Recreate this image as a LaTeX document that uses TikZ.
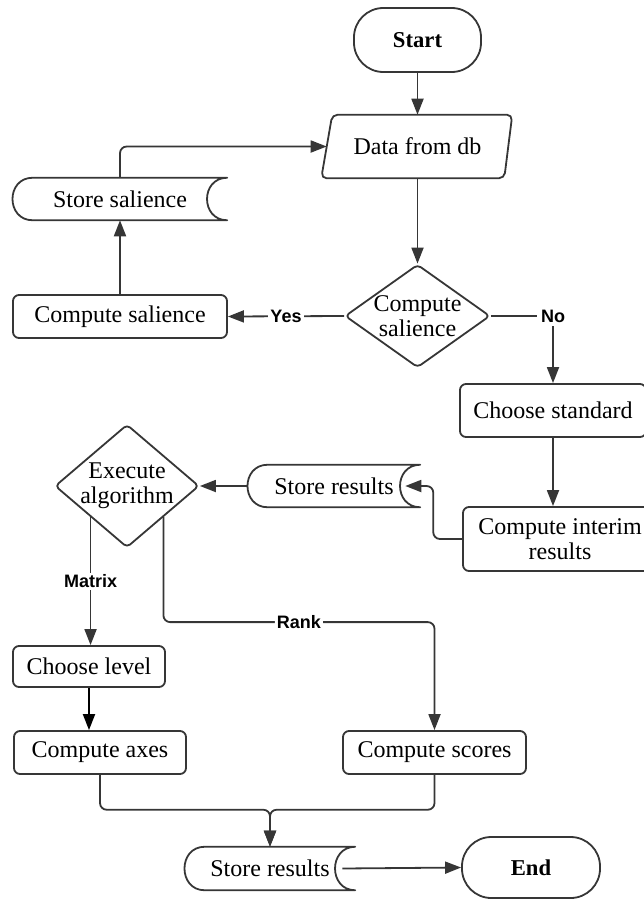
\documentclass[tikz,border=0pt]{standalone}
\usepackage{fontspec}
\setmainfont{Liberation Serif}
\newfontfamily\labelfont{Liberation Sans}
\usetikzlibrary{arrows.meta,calc,shapes.geometric}
\definecolor{ink}{HTML}{363636}

% outline of a "stored data" symbol around an invisible node
\newcommand\storeoutline[1]{%
  \draw[outline] ($(#1.north west)+(20,0)$) -- (#1.north east)
    .. controls +(-27,0) and +(-27,0) .. (#1.south east)
    -- ($(#1.south west)+(20,0)$)
    .. controls +(-27,0) and +(-27,0) .. ($(#1.north west)+(20,0)$) -- cycle;}

\begin{document}
\begin{tikzpicture}[x=0.75pt,y=-0.75pt,
  every node/.style={font=\fontsize{18}{18.75}\selectfont, text=black, inner sep=0pt},
  sz/.style 2 args={minimum width=#1*0.75pt, minimum height=#2*0.75pt},
  outline/.style={draw=ink, line width=1.35pt, line join=round},
  box/.style={rectangle, outline, rounded corners=4.5pt},
  plain/.style={rectangle},
  termbox/.style={rectangle, outline, rounded corners=22pt,
    font=\fontsize{17}{20}\selectfont\bfseries},
  decision/.style={diamond, outline, rounded corners=3pt},
  arrow/.style={draw=ink, line width=1.35pt, -{Triangle[length=12pt,width=9pt]}},
  lab/.style={font=\labelfont\fontsize{13.5}{16}\selectfont\bfseries, fill=white, inner sep=1.5pt},
]
\useasboundingbox (0,0) rectangle (643,900);

% nodes
\node[termbox, sz={127}{64}] (start) at (417.5,40) {Start};

\node[plain, sz={181}{63}] (data) at (417.5,146.5) {Data from db};
\draw[outline, rounded corners=4pt]
  ($(data.north west)+(5.5,0)$) -- ($(data.north east)+(4,0)$)
  -- ($(data.south east)+(-4,0)$) -- ($(data.south west)+(-5.5,0)$) -- cycle;

\node[plain, sz={214}{42}] (storesal) at (120,199) {Store salience\hspace{10pt}};
\storeoutline{storesal}

\node[box, sz={214}{43}] (compsal) at (120,316.5) {Compute salience};

\node[decision, sz={145}{103}] (dec1) at (417.5,316) {};
\node[align=center] (dec1-text) at (dec1) {Compute\\salience};

\node[box, sz={186}{53}] (choosestd) at (553,410.5) {Choose standard};

\node[box, sz={194}{64}, align=center] (interim) at (560,539) {Compute interim\\results};

\node[plain, sz={172}{42}] (storeres1) at (334,486) {Store results\hspace{10pt}};
\storeoutline{storeres1}

\node[decision, sz={144}{123}] (exec) at (127,486) {};
\node[align=center] (exec-text) at (exec) {Execute\\algorithm};

\node[box, sz={152}{41}] (chooselvl) at (89,666.5) {Choose level};
\node[box, sz={172}{43}] (axes) at (100,752.5) {Compute axes};
\node[box, sz={183}{43}] (scores) at (434.5,752.5) {Compute scores};

\node[plain, sz={170}{43}] (storeres2) at (270,868.5) {Store results\hspace{10pt}};
\storeoutline{storeres2}

\node[termbox, sz={138}{61}] (end) at (531,867.5) {End};

% connectors
\draw[arrow] (start.south) -- (data.north);
\draw[arrow, rounded corners=5pt] (storesal.north) |- (data.west);
\draw[arrow] (compsal.north) -- (storesal.south);
\draw[arrow] (data.south) -- (dec1.north);
\draw[arrow] (dec1.west) -- node[lab] {Yes} (compsal.east);
\draw[arrow] (dec1.east) -| node[lab, pos=0.5, inner sep=3pt] {No} (choosestd.north);
\draw[arrow] (choosestd.south) -- (choosestd.south |- interim.north);
\draw[arrow, rounded corners=5pt] (interim.west) -| ($(storeres1.east)+(13,0)$)
  -- ($(storeres1.east)+(-15,0)$);
\draw[arrow] (storeres1.west) -- (exec.east);
\draw[arrow] (exec.south west) -- node[lab] {Matrix} (exec.south west |- chooselvl.north);
\draw[arrow, rounded corners=5pt] (exec.south east)
  |- node[lab, pos=0.75] {Rank} ($(scores.north)+(0,-108)$) -- (scores.north);
\draw[arrow, draw=black] (chooselvl.south) -- (chooselvl.south |- axes.north);
\coordinate (merge) at ($(storeres2.north)+(0,-37)$);
\draw[arrow, rounded corners=5pt] (axes.south) |- (merge) -- (storeres2.north);
\draw[arrow, rounded corners=5pt] (scores.south) |- (merge) -- (storeres2.north);
\draw[arrow] ($(storeres2.east)+(-13,0)$) -- (end.west);
\end{tikzpicture}
\end{document}
